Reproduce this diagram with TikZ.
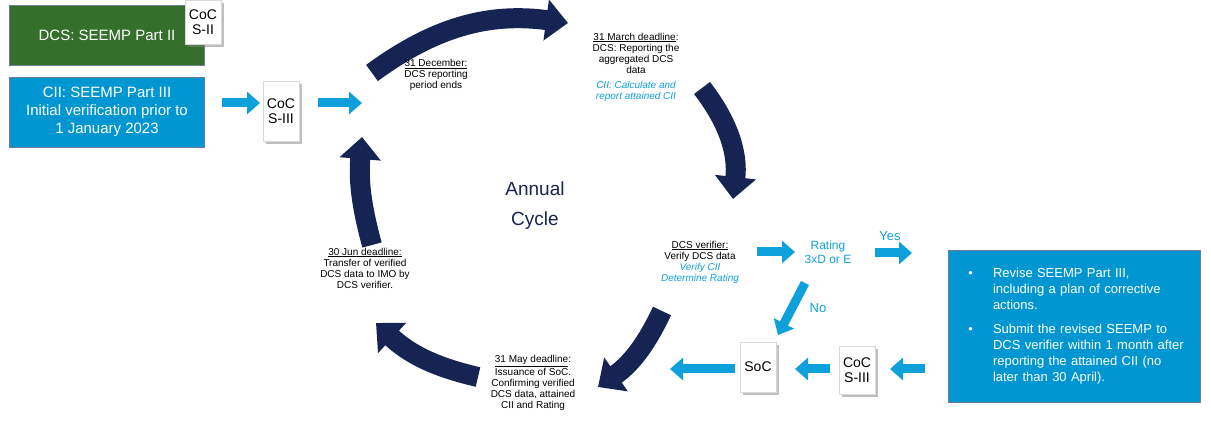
\documentclass[tikz,border=0pt]{standalone}
\usepackage{fontspec}
\setmainfont{Liberation Sans}
\usetikzlibrary{arrows.meta,shadows}
\definecolor{navy}{RGB}{22,36,84}
\definecolor{skyb}{RGB}{14,160,218}
\definecolor{boxb}{RGB}{0,150,210}
\definecolor{dgreen}{RGB}{52,112,44}
\tikzset{
  cyc/.style = {navy, line width = 20pt, -{Triangle[width=40pt,length=22pt]}},
  flow/.style = {skyb, line width = 9pt, -{Triangle[width=22pt,length=13pt]}},
  doc/.style = {draw = black!15, fill = white, drop shadow, inner sep = 2pt,
    align = center, font = \fontsize{14}{15}\selectfont, minimum width = 36pt},
  note/.style = {align = center, font = \fontsize{10}{11}\selectfont},
  bigbox/.style = {draw = navy!60, text = white, align = center,
    font = \fontsize{15}{18}\selectfont}
}
\begin{document}
\begin{tikzpicture}[x = 1pt, y = 1pt]
  \useasboundingbox (0,0) rectangle (1211,425);
  % boxes on the left
  \node (part2) [bigbox, fill = dgreen, minimum width = 195pt, minimum height = 60pt] at (107,390) {DCS: SEEMP Part II};
  \node (part3) [bigbox, fill = boxb, minimum width = 195pt, minimum height = 70pt] at (107,313)
    {CII: SEEMP Part III\\Initial verification prior to\\1 January 2023};
  \node (cocA) [doc, minimum height = 44pt] at (203,403) {CoC\\S-II};
  \node (cocB) [doc, minimum height = 60pt] at (281,314) {CoC\\S-III};
  \coordinate (inA) at (222,322);
  \coordinate (inB) at (260,322);
  \coordinate (outA) at (318,322);
  \coordinate (outB) at (362,322);
  \draw[flow] (inA) -- (inB);
  \draw[flow] (outA) -- (outB);
  % annual cycle
  \node (mid) [font = \fontsize{19}{20}\selectfont, navy, align = center] at (535,219) {Annual\\[10pt]Cycle};
  \coordinate (t1) at (372,352); \coordinate (h1) at (568,402);
  \coordinate (t2) at (702,337); \coordinate (h2) at (733,226);
  \coordinate (t3) at (662,114); \coordinate (h3) at (598,38);
  \coordinate (t4) at (478,48);  \coordinate (h4) at (376,102);
  \coordinate (t5) at (372,180); \coordinate (h5) at (362,288);
  \draw[cyc] (t1) to[bend left = 22] (h1);
  \draw[cyc] (t2) to[bend left = 22] (h2);
  \draw[cyc] (t3) to[bend left = 15] (h3);
  \draw[cyc] (t4) to[bend left = 15] (h4);
  \draw[cyc] (t5) to[bend left = 10] (h5);
  \node (dec) [note] at (436,350) {\underline{31 December:}\\DCS reporting\\period ends};
  \node (mar) [note] at (636,358) {\underline{31 March deadline}:\\DCS: Reporting the\\aggregated DCS\\data\\[4pt]
    \textcolor{skyb}{\itshape CII: Calculate and}\\\textcolor{skyb}{\itshape report attained CII}};
  \node (ver) [note] at (700,163) {\underline{DCS verifier:}\\Verify DCS data\\
    \textcolor{skyb}{\itshape Verify CII}\\\textcolor{skyb}{\itshape Determine Rating}};
  \node (jun) [note] at (365,157) {\underline{30 Jun deadline:}\\Transfer of verified\\DCS data to IMO by\\DCS verifier.};
  \node (may) [note] at (533,42) {\underline{31 May deadline}:\\Issuance of SoC.\\Confirming verified\\DCS data, attained\\CII and Rating};
  % rating branch
  \node (rate) [skyb, align = center, font = \fontsize{12}{14}\selectfont] at (828,173) {Rating\\3xD or E};
  \node (yes) [skyb, font = \fontsize{13}{14}\selectfont] at (890,189) {Yes};
  \node (no) [skyb, font = \fontsize{13}{14}\selectfont] at (818,117) {No};
  \coordinate (verR) at (757,173);
  \coordinate (verS) at (795,173);
  \coordinate (yesA) at (875,172);
  \coordinate (yesB) at (912,172);
  \coordinate (noA) at (805,142);
  \coordinate (noB) at (778,90);
  \draw[flow] (verR) -- (verS);
  \draw[flow] (yesA) -- (yesB);
  \draw[flow] (noA) -- (noB);
  \node (act) [bigbox, fill = boxb, minimum width = 252pt, minimum height = 152pt, align = left,
    text width = 222pt, font = \fontsize{13}{16}\selectfont] at (1074,99)
    {\leftskip = 30pt \rightskip = 0pt plus 1fil
     \noindent\llap{\textbullet\hspace{20pt}}Revise SEEMP Part III, including a plan of corrective actions.\par\vspace{8pt}
     \noindent\llap{\textbullet\hspace{20pt}}Submit the revised SEEMP to DCS verifier within 1 month after reporting the attained CII (no later than 30 April).\par};
  \node (soc) [doc, minimum height = 50pt] at (758,58) {SoC};
  \node (cocC) [doc, minimum height = 48pt] at (857,55) {CoC\\S-III};
  \coordinate (socA) at (735,56);
  \coordinate (socB) at (670,56);
  \coordinate (cocL) at (830,56);
  \coordinate (socR) at (795,56);
  \coordinate (actL) at (925,56);
  \coordinate (cocR) at (890,56);
  \draw[flow] (socA) -- (socB);
  \draw[flow] (cocL) -- (socR);
  \draw[flow] (actL) -- (cocR);
\end{tikzpicture}
\end{document}
